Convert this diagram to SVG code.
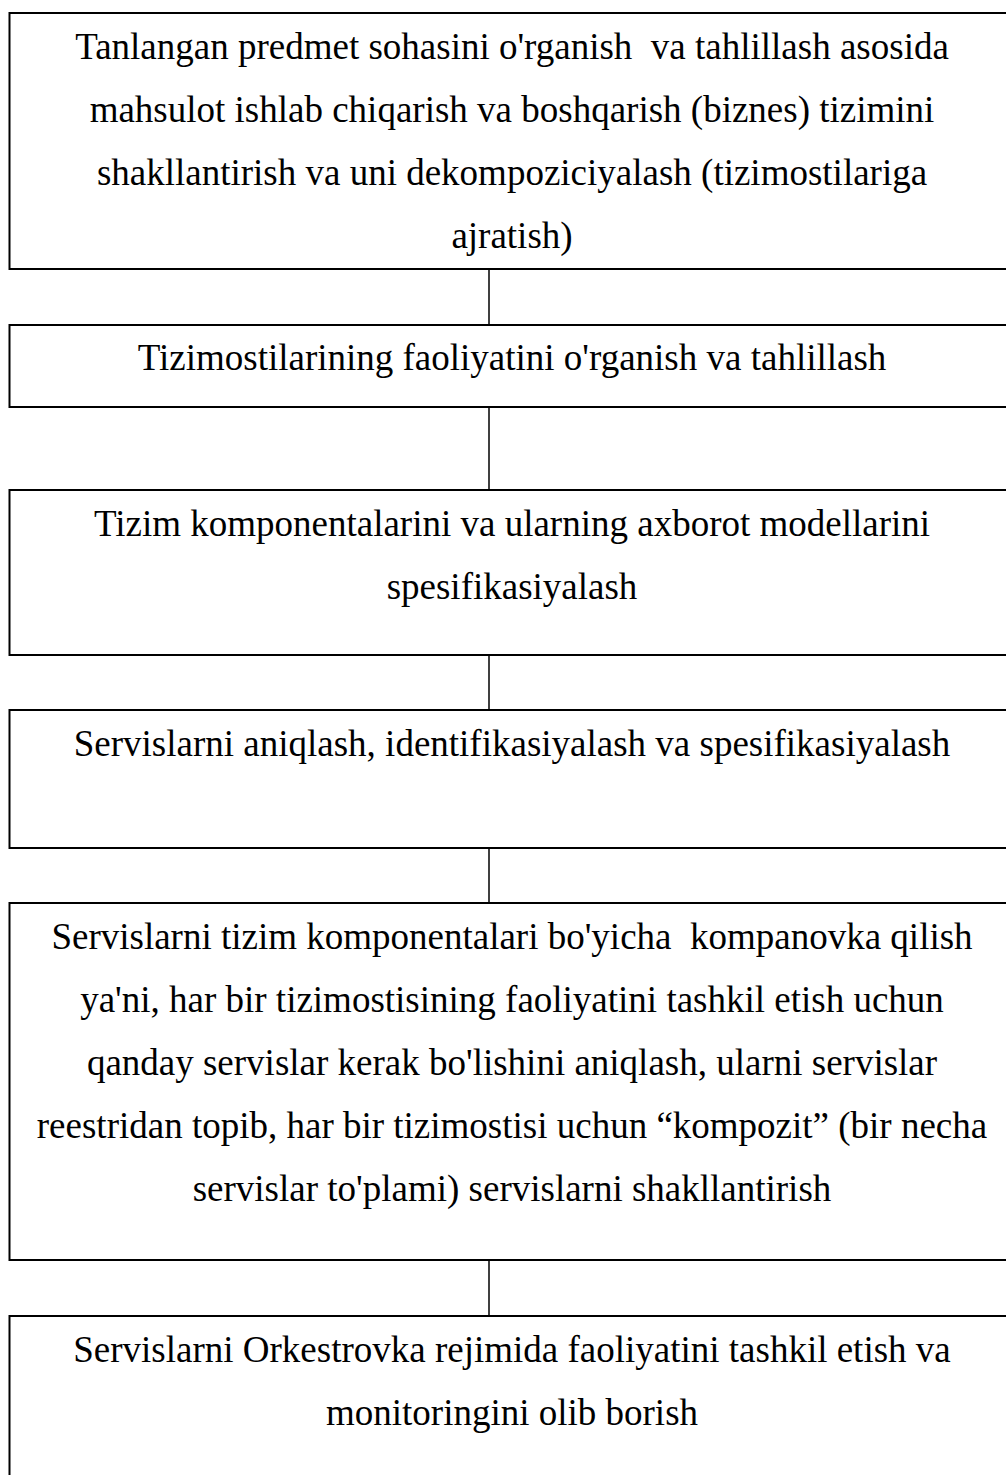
<svg xmlns="http://www.w3.org/2000/svg" width="1006" height="1475" viewBox="0 0 1006 1475">
<style>
.box{fill:#fff;stroke:#000;stroke-width:2}
.conn{stroke:#000;stroke-width:1.5;fill:none}
text{font-family:"Liberation Serif","Times New Roman",serif;font-size:37px;fill:#000;text-anchor:middle}
</style>
<rect width="1006" height="1475" fill="#fff"/>
<g id="connectors">
<line class="conn" x1="489" y1="269" x2="489" y2="325"/>
<line class="conn" x1="489" y1="407" x2="489" y2="490"/>
<line class="conn" x1="489" y1="655" x2="489" y2="710"/>
<line class="conn" x1="489" y1="848" x2="489" y2="903"/>
<line class="conn" x1="489" y1="1260" x2="489" y2="1316"/>
</g>
<g id="node1">
<rect class="box" x="9.5" y="13" width="1010" height="256"/>
<text x="512" y="59" xml:space="preserve">Tanlangan predmet sohasini o'rganish  va tahlillash asosida</text>
<text x="512" y="122">mahsulot ishlab chiqarish va boshqarish (biznes) tizimini</text>
<text x="512" y="185">shakllantirish va uni dekompoziciyalash (tizimostilariga</text>
<text x="512" y="248">ajratish)</text>
</g>
<g id="node2">
<rect class="box" x="9.5" y="325" width="1010" height="82"/>
<text x="512" y="370">Tizimostilarining faoliyatini o'rganish va tahlillash</text>
</g>
<g id="node3">
<rect class="box" x="9.5" y="490" width="1010" height="165"/>
<text x="512" y="536">Tizim komponentalarini va ularning axborot modellarini</text>
<text x="512" y="599">spesifikasiyalash</text>
</g>
<g id="node4">
<rect class="box" x="9.5" y="710" width="1010" height="138"/>
<text x="512" y="756">Servislarni aniqlash, identifikasiyalash va spesifikasiyalash</text>
</g>
<g id="node5">
<rect class="box" x="9.5" y="903" width="1010" height="357"/>
<text x="512" y="949" xml:space="preserve">Servislarni tizim komponentalari bo'yicha  kompanovka qilish</text>
<text x="512" y="1012">ya'ni, har bir tizimostisining faoliyatini tashkil etish uchun</text>
<text x="512" y="1075">qanday servislar kerak bo'lishini aniqlash, ularni servislar</text>
<text x="512" y="1138">reestridan topib, har bir tizimostisi uchun “kompozit” (bir necha</text>
<text x="512" y="1201">servislar to'plami) servislarni shakllantirish</text>
</g>
<g id="node6">
<rect class="box" x="9.5" y="1316" width="1010" height="200"/>
<text x="512" y="1362">Servislarni Orkestrovka rejimida faoliyatini tashkil etish va</text>
<text x="512" y="1425">monitoringini olib borish</text>
</g>
</svg>
